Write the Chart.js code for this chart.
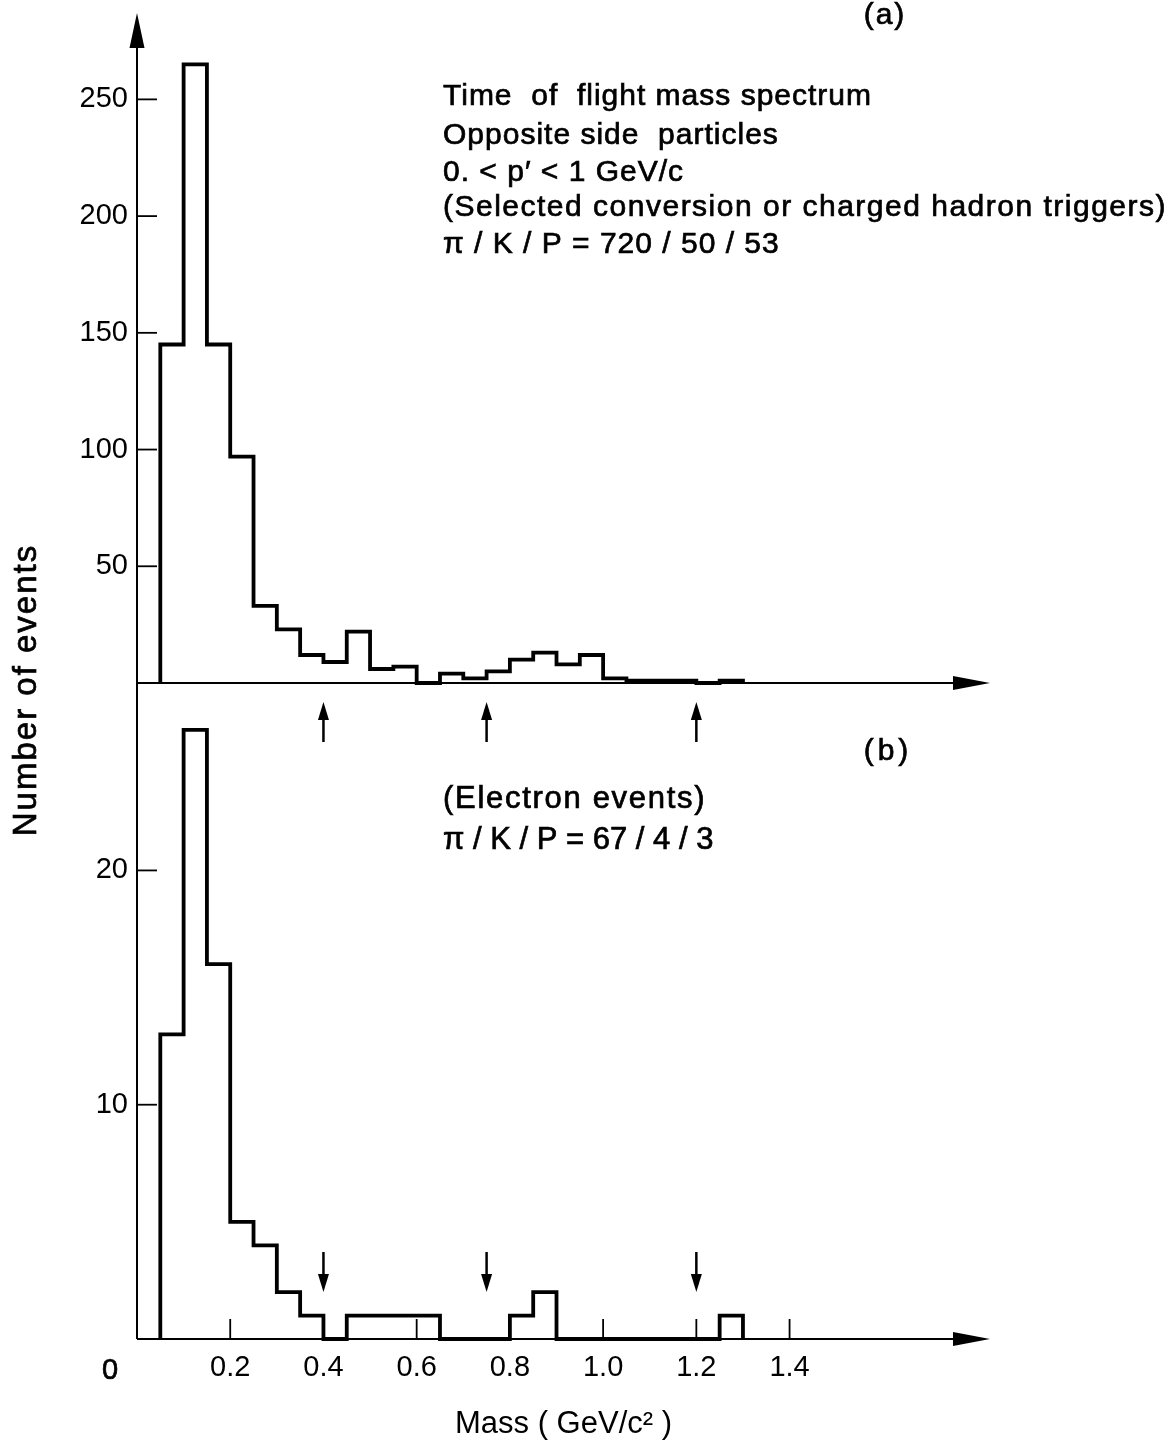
<!DOCTYPE html>
<html>
<head>
<script src="https://cdn.jsdelivr.net/npm/chart.js@4.4.0/dist/chart.umd.min.js"></script>
<style>
  body { margin: 0; background: #fff; }
  #wrap { position: relative; width: 1175px; height: 1445px; }
  #wrap canvas { position: absolute; left: 0; top: 0; }
</style>
</head>
<body>
<div id="wrap">
  <canvas id="panelA" width="1175" height="1445"></canvas>
  <canvas id="panelB" width="1175" height="1445"></canvas>
</div>
<script>
// mass bin edges in GeV/c^2 (25 bins of 0.05, last value closes the last bin)
const binEdges = [0.05, 0.10, 0.15, 0.20, 0.25, 0.30, 0.35, 0.40, 0.45, 0.50,
                  0.55, 0.60, 0.65, 0.70, 0.75, 0.80, 0.85, 0.90, 0.95, 1.00,
                  1.05, 1.10, 1.15, 1.20, 1.25, 1.30];

// (a) opposite side particles, selected conversion / charged hadron triggers
const countsA = [145, 265, 145, 97, 33, 23, 12, 9, 22, 6,
                 7, 0, 4, 2, 5, 10, 13, 8, 12, 2,
                 1, 1, 1, 0, 1];

// (b) electron events
const countsB = [13, 26, 16, 5, 4, 2, 1, 0, 1, 1,
                 1, 1, 0, 0, 0, 1, 2, 0, 0, 0,
                 0, 0, 0, 0, 1];

// pi / K / p separation cuts
const cutMasses = [0.4, 0.75, 1.2];

const ticksA = [50, 100, 150, 200, 250];
const ticksB = [10, 20];
const massTicks = [0.2, 0.4, 0.6, 0.8, 1.0, 1.2, 1.4];

const FONT = '"Liberation Sans", Arial, sans-serif';
const INK = '#000';

function histPoints(counts) {
  const pts = [{ x: binEdges[0], y: 0 }];
  counts.forEach((c, i) => pts.push({ x: binEdges[i], y: c }));
  pts.push({ x: binEdges[counts.length], y: 0 });
  return pts;
}

function arrowHead(ctx, x, y, dx, dy, len, half) {
  // tip at (x,y), pointing along (dx,dy)
  const bx = x - dx * len, by = y - dy * len;
  ctx.beginPath();
  ctx.moveTo(x, y);
  ctx.lineTo(bx - dy * half, by + dx * half);
  ctx.lineTo(bx + dy * half, by - dx * half);
  ctx.closePath();
  ctx.fill();
}

function text(ctx, str, x, y, size, align, spacing, baseline) {
  ctx.font = size + 'px ' + FONT;
  ctx.textAlign = align || 'left';
  ctx.textBaseline = baseline || 'alphabetic';
  ctx.letterSpacing = (spacing || 0) + 'px';
  ctx.lineWidth = 0.7;
  ctx.fillText(str, x, y);
  ctx.strokeText(str, x, y);
  ctx.letterSpacing = '0px';
}

// axes with arrow heads, inward tick marks, cut arrows and captions
const extras = {
  id: 'extras',
  afterDraw(chart, args, opts) {
    const ctx = chart.ctx;
    const xs = chart.scales.x, ys = chart.scales.y;
    const area = chart.chartArea;
    const y0 = ys.getPixelForValue(0);
    ctx.save();
    ctx.strokeStyle = INK;
    ctx.fillStyle = INK;
    ctx.lineWidth = 2;

    // vertical axis
    ctx.beginPath();
    ctx.moveTo(area.left, area.bottom);
    ctx.lineTo(area.left, area.top + (opts.top ? 20 : 0));
    ctx.stroke();
    if (opts.top) arrowHead(ctx, area.left, area.top, 0, -1, 35, 7.5);

    // horizontal axis
    ctx.beginPath();
    ctx.moveTo(area.left, y0);
    ctx.lineTo(area.right - 20, y0);
    ctx.stroke();
    arrowHead(ctx, area.right, y0, 1, 0, 37, 7);

    // y tick marks, pointing into the plot
    ctx.lineWidth = 1.8;
    opts.yTicks.forEach(v => {
      const py = ys.getPixelForValue(v);
      ctx.beginPath();
      ctx.moveTo(area.left, py);
      ctx.lineTo(area.left + 20, py);
      ctx.stroke();
    });

    if (!opts.top) {
      massTicks.forEach(m => {
        const px = xs.getPixelForValue(m);
        ctx.beginPath();
        ctx.moveTo(px, y0);
        ctx.lineTo(px, y0 - 20);
        ctx.stroke();
      });
    }

    // cut arrows
    ctx.lineWidth = 2.5;
    cutMasses.forEach(m => {
      const px = xs.getPixelForValue(m);
      if (opts.top) {
        ctx.beginPath();
        ctx.moveTo(px, y0 + 59);
        ctx.lineTo(px, y0 + 30);
        ctx.stroke();
        arrowHead(ctx, px, y0 + 19, 0, -1, 18, 5.5);
      } else {
        ctx.beginPath();
        ctx.moveTo(px, y0 - 87);
        ctx.lineTo(px, y0 - 58);
        ctx.stroke();
        arrowHead(ctx, px, y0 - 47, 0, 1, 18, 5.5);
      }
    });

    if (opts.top) {
      text(ctx, '(a)', 885, 24, 30, 'center', 2);
      const lines = [
        'Time  of  flight mass spectrum',
        'Opposite side  particles',
        '0. < p\u2032 < 1 GeV/c',
        '(Selected conversion or charged hadron triggers)',
        '\u03c0 / K / P = 720 / 50 / 53'
      ];
      const base = [105, 144, 181, 216, 253];
      lines.forEach((s, i) => text(ctx, s, 443, base[i], 30, 'left', i === 3 ? 1.5 : 1));
    } else {
      text(ctx, '(b)', 888, 760, 30, 'center', 4);
      text(ctx, '(Electron events)', 443, 808, 31, 'left', 1.7);
      text(ctx, '\u03c0 / K / P = 67 / 4 / 3', 443, 849, 31, 'left', 0);
      text(ctx, '0', area.left - 27, y0 + 40, 29, 'center', 0);

      ctx.save();
      ctx.translate(27, 690);
      ctx.rotate(-Math.PI / 2);
      text(ctx, 'Number of events', 0, 0, 33, 'center', 2, 'middle');
      ctx.restore();
    }
    ctx.restore();
  }
};

function makePanel(id, counts, yMax, yTicks, top) {
  const xScale = {
    type: 'linear', min: 0, max: 1.83,
    display: !top,
    afterBuildTicks: s => { s.ticks = massTicks.map(v => ({ value: v })); },
    grid: { display: false, drawTicks: false },
    border: { display: false },
    ticks: {
      color: INK, padding: 12, maxRotation: 0, autoSkip: false,
      font: { family: FONT, size: 29 },
      callback: v => v.toFixed(1)
    },
    title: {
      display: true, text: 'Mass ( GeV/c\u00b2 )', color: INK,
      font: { family: FONT, size: 31, lineHeight: 1.2 },
      padding: { top: 0, bottom: 2 }
    }
  };
  // only the lower panel carries the mass axis labels
  if (!top) xScale.afterFit = s => { s.height = 106; };

  return new Chart(document.getElementById(id), {
    type: 'line',
    data: {
      datasets: [{
        data: histPoints(counts),
        stepped: true,
        borderColor: INK,
        borderWidth: 3.8,
        borderJoinStyle: 'miter',
        pointRadius: 0,
        fill: false,
        clip: false
      }]
    },
    options: {
      responsive: false,
      animation: false,
      devicePixelRatio: 1,
      layout: { padding: top ? { top: 13, bottom: 762, left: 0, right: 185 }
                             : { top: 683, bottom: 0, left: 0, right: 185 } },
      plugins: {
        legend: { display: false },
        tooltip: { enabled: false },
        extras: { top: top, yTicks: yTicks }
      },
      scales: {
        x: xScale,
        y: {
          type: 'linear', min: 0, max: yMax,
          afterBuildTicks: s => { s.ticks = yTicks.map(v => ({ value: v })); },
          afterFit: s => {
            s.width = 137;
            // labels sit well inside the range, no overhang to reserve
            s.paddingTop = 0;
            s.paddingBottom = 0;
          },
          grid: { display: false, drawTicks: false },
          border: { display: false },
          ticks: { color: INK, padding: 9, font: { family: FONT, size: 29 } }
        }
      }
    },
    plugins: [extras]
  });
}

makePanel('panelA', countsA, 287, ticksA, true);
makePanel('panelB', countsB, 28, ticksB, false);
</script>
</body>
</html>
